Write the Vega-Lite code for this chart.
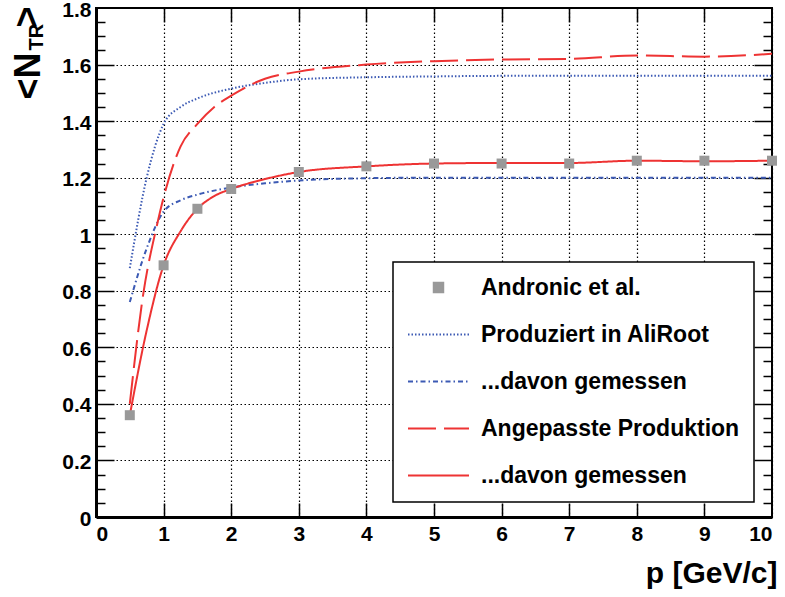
{
  "$schema": "https://vega.github.io/schema/vega-lite/v6.json",
  "width": 676,
  "height": 509,
  "autosize": {"type": "none"},
  "padding": {"left": 96, "top": 8, "right": 13, "bottom": 80},
  "background": "white",
  "config": {
    "view": {"stroke": "black", "strokeWidth": 2},
    "axis": {
      "labelFont": "Liberation Sans", "labelFontWeight": "bold", "labelFontSize": 21, "labelColor": "black",
      "titleFont": "Liberation Sans", "titleFontWeight": "bold", "titleColor": "black",
      "gridColor": "black", "gridDash": [1.5, 2.5], "gridWidth": 1.2, "gridOpacity": 1,
      "tickColor": "black", "tickWidth": 1.5, "domain": false
    }
  },
  "datasets": {
    "curves": [
      {"s": "P", "x": 0.5, "y": 0.88}, {"s": "P", "x": 0.75, "y": 1.2}, {"s": "P", "x": 1.0, "y": 1.39}, {"s": "P", "x": 1.25, "y": 1.45}, {"s": "P", "x": 1.5, "y": 1.48}, {"s": "P", "x": 2, "y": 1.515}, {"s": "P", "x": 2.5, "y": 1.535}, {"s": "P", "x": 3, "y": 1.548}, {"s": "P", "x": 4, "y": 1.555}, {"s": "P", "x": 5, "y": 1.558}, {"s": "P", "x": 6, "y": 1.56}, {"s": "P", "x": 7, "y": 1.56}, {"s": "P", "x": 8, "y": 1.56}, {"s": "P", "x": 9, "y": 1.56}, {"s": "P", "x": 10, "y": 1.56},
      {"s": "PM", "x": 0.5, "y": 0.76}, {"s": "PM", "x": 0.75, "y": 0.95}, {"s": "PM", "x": 1.0, "y": 1.08}, {"s": "PM", "x": 1.25, "y": 1.12}, {"s": "PM", "x": 1.5, "y": 1.14}, {"s": "PM", "x": 2, "y": 1.165}, {"s": "PM", "x": 2.5, "y": 1.18}, {"s": "PM", "x": 3, "y": 1.19}, {"s": "PM", "x": 4, "y": 1.198}, {"s": "PM", "x": 5, "y": 1.2}, {"s": "PM", "x": 6, "y": 1.2}, {"s": "PM", "x": 7, "y": 1.2}, {"s": "PM", "x": 8, "y": 1.2}, {"s": "PM", "x": 9, "y": 1.2}, {"s": "PM", "x": 10, "y": 1.2},
      {"s": "G", "x": 0.5, "y": 0.4}, {"s": "G", "x": 0.7, "y": 0.79}, {"s": "G", "x": 0.9, "y": 1.03}, {"s": "G", "x": 1.0, "y": 1.13}, {"s": "G", "x": 1.25, "y": 1.31}, {"s": "G", "x": 1.5, "y": 1.39}, {"s": "G", "x": 1.75, "y": 1.45}, {"s": "G", "x": 2, "y": 1.49}, {"s": "G", "x": 2.5, "y": 1.55}, {"s": "G", "x": 3, "y": 1.575}, {"s": "G", "x": 4, "y": 1.6}, {"s": "G", "x": 5, "y": 1.612}, {"s": "G", "x": 6, "y": 1.618}, {"s": "G", "x": 7, "y": 1.62}, {"s": "G", "x": 8, "y": 1.632}, {"s": "G", "x": 9, "y": 1.628}, {"s": "G", "x": 10, "y": 1.638},
      {"s": "GM", "x": 0.5, "y": 0.36}, {"s": "GM", "x": 0.75, "y": 0.66}, {"s": "GM", "x": 1.0, "y": 0.89}, {"s": "GM", "x": 1.25, "y": 1.01}, {"s": "GM", "x": 1.5, "y": 1.09}, {"s": "GM", "x": 1.75, "y": 1.135}, {"s": "GM", "x": 2, "y": 1.16}, {"s": "GM", "x": 2.5, "y": 1.195}, {"s": "GM", "x": 3, "y": 1.22}, {"s": "GM", "x": 4, "y": 1.24}, {"s": "GM", "x": 5, "y": 1.25}, {"s": "GM", "x": 6, "y": 1.252}, {"s": "GM", "x": 7, "y": 1.252}, {"s": "GM", "x": 8, "y": 1.26}, {"s": "GM", "x": 9, "y": 1.258}, {"s": "GM", "x": 10, "y": 1.26}
    ],
    "pts": [
      {"x": 0.5, "y": 0.36}, {"x": 1, "y": 0.89}, {"x": 1.5, "y": 1.09}, {"x": 2, "y": 1.16}, {"x": 3, "y": 1.22}, {"x": 4, "y": 1.24}, {"x": 5, "y": 1.25}, {"x": 6, "y": 1.25}, {"x": 7, "y": 1.25}, {"x": 8, "y": 1.26}, {"x": 9, "y": 1.26}, {"x": 10, "y": 1.26}
    ]
  },
  "resolve": {"axis": {"x": "independent", "y": "independent"}},
  "layer": [
    {
      "data": {"name": "curves"},
      "mark": {"type": "line", "strokeWidth": 2, "interpolate": "monotone"},
      "encoding": {
        "x": {"field": "x", "type": "quantitative", "scale": {"domain": [0, 10], "nice": false},
          "axis": {"orient": "bottom", "values": [0,1,2,3,4,5,6,7,8,9,10], "format": "d", "ticks": false, "labelPadding": 6, "grid": true,
            "domain": true, "domainColor": "black", "domainWidth": 3,
            "title": "p [GeV/c]", "titleFontSize": 30, "titleX": 681, "titleY": 65, "titleAlign": "right", "titleBaseline": "alphabetic", "titleAnchor": null}},
        "y": {"field": "y", "type": "quantitative", "scale": {"domain": [0, 1.8], "nice": false},
          "axis": {"orient": "left", "values": [0,0.2,0.4,0.6,0.8,1,1.2,1.4,1.6,1.8], "format": "~g", "ticks": false, "labelPadding": 5, "labelOffset": 2, "grid": true,
            "domain": true, "domainColor": "black", "domainWidth": 3,
            "title": "<N", "titleFontSize": 36, "titleAngle": -90, "titleX": -68, "titleY": 91, "titleAlign": "left", "titleBaseline": "middle"}},
        "color": {"field": "s", "type": "nominal",
          "scale": {"domain": ["A", "P", "PM", "G", "GM"], "range": ["#999999", "#3c5ab4", "#3c5ab4", "#ee3333", "#ee3333"]},
          "legend": {
            "orient": "none", "legendX": 297, "legendY": 254, "direction": "vertical",
            "title": null, "fillColor": "white", "strokeColor": "black",
            "padding": 14, "rowPadding": 23, "labelOffset": 31, "symbolOffset": 20, "labelLimit": 0,
            "labelFont": "Liberation Sans", "labelFontWeight": "bold", "labelFontSize": 23, "labelColor": "black",
            "symbolType": "stroke", "symbolSize": 400, "symbolStrokeWidth": 2,
            "labelExpr": "datum.value === 'A' ? 'Andronic et al.' : datum.value === 'P' ? 'Produziert in AliRoot' : datum.value === 'G' ? 'Angepasste Produktion' : '...davon gemessen'",
            "encode": {
              "legend": {"update": {"strokeWidth": {"value": 1.5}}},
              "symbols": {"update": {
              "shape": {"signal": "datum.value === 'A' ? 'square' : 'M -3.05 0 L 3.05 0'"},
              "size": {"signal": "datum.value === 'A' ? 90 : 400"},
              "fill": {"signal": "datum.value === 'A' ? '#999999' : 'transparent'"},
              "stroke": {"signal": "datum.value === 'A' ? 'transparent' : scale('color', datum.value)"},
              "strokeDash": {"signal": "scale('strokeDash', datum.value)"}
            }}}
          }},
        "strokeDash": {"field": "s", "type": "nominal",
          "scale": {"domain": ["A", "P", "PM", "G", "GM"], "range": [[1, 0], [1.5, 2], [5, 3, 1.5, 3], [28, 8], [1, 0]]},
          "legend": null}
      }
    },
    {
      "data": {"name": "pts"},
      "mark": {"type": "point", "shape": "square", "filled": true, "size": 100, "color": "#999999", "opacity": 1},
      "encoding": {
        "x": {"field": "x", "type": "quantitative", "axis": {"orient": "bottom", "values": [1,2,3,4,5,6,7,8,9], "labels": false, "grid": false, "tickSize": -14, "title": null}},
        "y": {"field": "y", "type": "quantitative", "axis": {"orient": "left", "values": [0.2,0.4,0.6,0.8,1,1.2,1.4,1.6], "labels": false, "grid": false, "tickSize": -18, "title": null}}
      }
    },
    {
      "data": {"name": "pts"},
      "mark": {"type": "point", "opacity": 0},
      "encoding": {
        "x": {"field": "x", "type": "quantitative", "axis": {"orient": "top", "values": [1,2,3,4,5,6,7,8,9], "labels": false, "grid": false, "tickSize": -14, "title": null}},
        "y": {"field": "y", "type": "quantitative", "axis": {"orient": "left", "values": [0.05,0.1,0.15,0.25,0.3,0.35,0.45,0.5,0.55,0.65,0.7,0.75,0.85,0.9,0.95,1.05,1.1,1.15,1.25,1.3,1.35,1.45,1.5,1.55,1.65,1.7,1.75], "labels": false, "grid": false, "tickSize": -9,
          "title": "TR", "titleFontSize": 20, "titleAngle": -90, "titleX": -60, "titleY": 42, "titleAlign": "left", "titleBaseline": "middle"}}
      }
    },
    {
      "data": {"name": "pts"},
      "mark": {"type": "point", "opacity": 0},
      "encoding": {
        "x": {"field": "x", "type": "quantitative", "axis": null},
        "y": {"field": "y", "type": "quantitative", "axis": {"orient": "right", "values": [0.2,0.4,0.6,0.8,1,1.2,1.4,1.6], "labels": false, "grid": false, "tickSize": -18,
          "title": ">", "titleFontSize": 36, "titleAngle": -90, "titleX": -745, "titleY": 19, "titleAlign": "left", "titleBaseline": "middle"}}
      }
    },
    {
      "data": {"name": "pts"},
      "mark": {"type": "point", "opacity": 0},
      "encoding": {
        "x": {"field": "x", "type": "quantitative", "axis": null},
        "y": {"field": "y", "type": "quantitative", "axis": {"orient": "right", "values": [0.05,0.1,0.15,0.25,0.3,0.35,0.45,0.5,0.55,0.65,0.7,0.75,0.85,0.9,0.95,1.05,1.1,1.15,1.25,1.3,1.35,1.45,1.5,1.55,1.65,1.7,1.75], "labels": false, "grid": false, "tickSize": -9, "title": null}}
      }
    }
  ]
}
